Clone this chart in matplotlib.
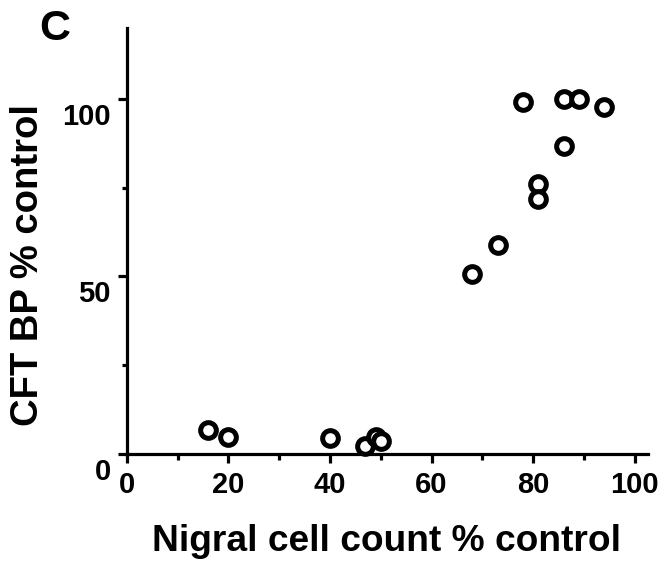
import matplotlib
matplotlib.use("Agg")
import matplotlib.pyplot as plt
from matplotlib.transforms import ScaledTranslation

plt.rcParams["font.family"] = ["Liberation Sans", "DejaVu Sans"]
plt.rcParams["font.weight"] = "bold"

# nigral cell count (% control) vs CFT BP (% control)
cell_count = [16, 20, 40, 47, 49, 50, 68, 73, 78, 81, 81, 86, 86, 89, 94]
cft_bp     = [6.8, 4.9, 4.5, 2.3, 4.9, 3.7, 50.7, 58.9, 99.2, 76.0, 71.8, 86.8, 100, 100, 97.7]

fig = plt.figure(figsize=(6.71, 5.61), dpi=100)
ax = fig.add_axes([0.189, 0.1907, 0.7765, 0.760])

ax.plot(cell_count, cft_bp, "o", ls="none", ms=11.3, mfc="white", mec="black", mew=3.6,
        clip_on=False, zorder=3)

ax.set_xlim(0, 102.6)
ax.set_ylim(0, 120)
ax.set_xticks([0, 20, 40, 60, 80, 100])
ax.set_xticks([10, 30, 50, 70, 90], minor=True)
ax.set_yticks([0, 50, 100])
ax.set_yticks([25, 75], minor=True)

for s in ["top", "right"]:
    ax.spines[s].set_visible(False)
for s in ["left", "bottom"]:
    ax.spines[s].set_linewidth(2.3)

ax.tick_params(which="major", direction="out", length=6.5, width=2.3, labelsize=21)
ax.tick_params(axis="y", which="minor", direction="out", length=3.5, width=2.3)
ax.tick_params(axis="x", which="minor", direction="out", length=4.5, width=2.3)
ax.tick_params(axis="y", pad=5)
ax.tick_params(axis="x", pad=6)

# y tick labels sit a little below their ticks
off = ScaledTranslation(0, -15 / 100, fig.dpi_scale_trans)
for lab in ax.get_yticklabels():
    lab.set_transform(lab.get_transform() + off)
    lab.set_fontweight("bold")
for lab in ax.get_xticklabels():
    lab.set_fontweight("bold")

ax.set_xlabel("Nigral cell count % control", fontsize=26.7, fontweight="bold")
ax.xaxis.set_label_coords(0.499, -0.165)
ax.set_ylabel("CFT BP % control", fontsize=27.5, fontweight="bold")
ax.yaxis.set_label_coords(-0.155, 0.444)

fig.text(0.082, 0.948, "C", fontsize=31, fontweight="bold", ha="center", va="center")

fig.savefig("out.png", dpi=100)
